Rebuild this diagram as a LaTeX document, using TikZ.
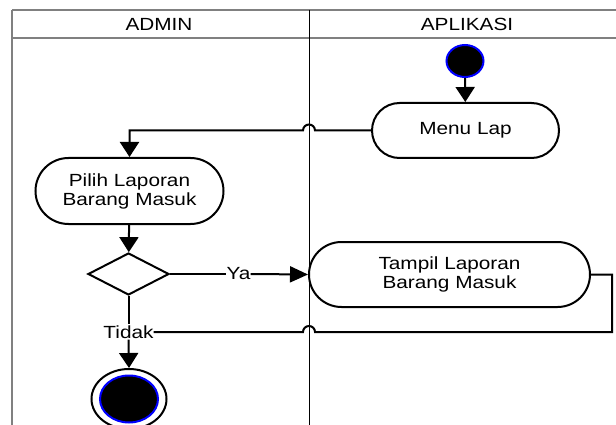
\documentclass[tikz,border=0pt]{standalone}
\usepackage{fontspec}
\setmainfont{Liberation Sans}[FakeStretch=1.18]
\usetikzlibrary{arrows.meta,shapes.geometric,calc}
\begin{document}
\begin{tikzpicture}[x=1pt,y=1pt,
  txt/.style={font=\fontsize{17.6}{19}\selectfont, align=center},
  act/.style={txt, draw, line width=2pt, inner sep=0pt},
  frame/.style={draw=black!50, line width=1.5pt},
  flow/.style={line width=2pt},
  arrV/.style={flow, -{Triangle[width=19pt,length=15pt]}},
  arrH/.style={flow, -{Triangle[width=16pt,length=18pt]}}]
\useasboundingbox (0,0) rectangle (616,-425);
% swimlane frame
\coordinate (tl) at (12,-10);
\coordinate (tr) at (616,-10);
\coordinate (hl) at (12,-38);
\coordinate (hr) at (616,-38);
\coordinate (bl) at (12,-425);
\coordinate (dvt) at (309,-10);
\coordinate (dvb) at (309,-425);
\draw[frame] (tl) -- (tr);
\draw[frame] (hl) -- (hr);
\draw[frame] (tl) -- (bl);
\draw[line width=1pt] (dvt) -- (dvb);
\node[txt] (hadmin) at (159,-24) {ADMIN};
\node[txt] (happ) at (467,-24) {APLIKASI};
% nodes
\node[ellipse, draw=blue, fill=black, line width=2pt, minimum width=37pt, minimum height=32pt, inner sep=0pt] (start) at (465,-61) {};
\node[act, rounded corners=27.5pt, minimum width=187pt, minimum height=55pt] (menu) at (465.5,-130.5) {Menu Lap};
\node[act, rounded corners=33pt, minimum width=188pt, minimum height=66pt] (pilih) at (129.5,-191) {Pilih Laporan\\Barang Masuk};
\node[diamond, draw, line width=2pt, minimum width=81pt, minimum height=42pt, inner sep=0pt] (dec) at (128.5,-274) {};
\node[act, rounded corners=32.5pt, minimum width=281pt, minimum height=65pt] (tampil) at (449.5,-274.5) {Tampil Laporan\\Barang Masuk};
\node[txt, inner sep=0pt] (ya) at (238.5,-274) {Ya};
\node[txt, inner xsep=0pt, inner ysep=1pt] (tidak) at (128.5,-332) {Tidak};
\node[ellipse, draw, line width=2pt, minimum width=75pt, minimum height=60pt, inner sep=0pt] (final) at (129,-399) {};
\node[ellipse, draw=blue, fill=black, line width=2pt, minimum width=58pt, minimum height=47pt, inner sep=0pt] (finalin) at (129,-399) {};
% helper coordinates
\coordinate (jA) at ($(menu.west -| dvt)+(6,0)$);
\coordinate (rc) at (612,-332);
\coordinate (jB) at ($(rc -| dvt)+(6,0)$);
% connectors
\draw[arrV] (start) -- (menu);
\draw[arrV] (menu.west) -- (jA) arc[start angle=0, end angle=180, radius=6pt] -- (menu.west -| pilih.north) -- (pilih.north);
\draw[arrV] (pilih) -- (dec);
\draw[flow] (dec.east) -- (ya.west);
\draw[arrH] (ya.east) -- (tampil.west);
\draw[flow] (tampil.east) -| (rc) -- (jB) arc[start angle=0, end angle=180, radius=6pt] -- (tidak.east);
\draw[flow] (dec.south) -- (tidak.north);
\draw[arrV] (tidak.south) -- (final.north);
\end{tikzpicture}
\end{document}
